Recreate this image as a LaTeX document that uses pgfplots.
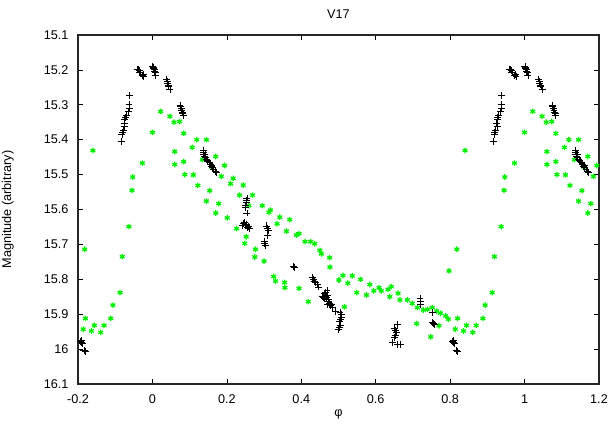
\documentclass[border=0pt]{standalone}
\usepackage{pgfplots}
\pgfplotsset{compat=1.18}
\usepackage{pgfplotstable}
\usepackage{fontspec}
\setmainfont{Liberation Sans}
\definecolor{ggreen}{RGB}{0,238,0}

% phase-folded light curve, phase in [0,1)
\pgfplotstableread{
x y
0.001 15.190
0.002 15.193
0.003 15.196
0.005 15.200
0.006 15.204
0.007 15.208
0.009 15.216
0.038 15.226
0.040 15.232
0.041 15.238
0.043 15.243
0.044 15.248
0.047 15.257
0.074 15.302
0.076 15.306
0.077 15.311
0.079 15.316
0.080 15.321
0.082 15.326
0.083 15.330
0.136 15.435
0.137 15.430
0.138 15.441
0.140 15.447
0.141 15.443
0.143 15.451
0.146 15.456
0.147 15.460
0.149 15.461
0.152 15.466
0.154 15.464
0.155 15.470
0.158 15.476
0.160 15.474
0.162 15.480
0.165 15.485
0.169 15.490
0.172 15.495
0.254 15.567
0.253 15.574
0.252 15.581
0.251 15.588
0.250 15.595
0.254 15.610
0.241 15.646
0.245 15.641
0.247 15.637
0.249 15.645
0.252 15.643
0.256 15.652
0.258 15.648
0.261 15.655
0.307 15.647
0.309 15.654
0.311 15.661
0.309 15.675
0.300 15.691
0.302 15.697
0.304 15.703
0.378 15.764
0.382 15.766
0.429 15.795
0.432 15.800
0.435 15.805
0.439 15.810
0.443 15.815
0.447 15.822
0.456 15.848
0.462 15.840
0.464 15.846
0.469 15.833
0.466 15.838
0.468 15.852
0.470 15.845
0.474 15.859
0.471 15.871
0.472 15.864
0.476 15.868
0.478 15.876
0.480 15.872
0.483 15.881
0.459 15.852
0.462 15.856
0.492 15.891
0.504 15.896
0.507 15.902
0.509 15.909
0.502 15.922
0.506 15.916
0.505 15.931
0.503 15.937
0.500 15.943
0.658 15.929
0.651 15.941
0.654 15.947
0.656 15.953
0.652 15.960
0.650 15.967
0.645 15.981
0.658 15.987
0.666 15.987
0.719 15.855
0.720 15.862
0.721 15.871
0.752 15.895
0.752 15.924
0.755 15.927
0.759 15.930
0.807 15.979
0.810 15.975
0.812 15.985
0.809 15.982
0.816 16.005
0.818 16.004
0.820 16.007
0.916 15.406
0.918 15.386
0.920 15.380
0.922 15.374
0.926 15.361
0.924 15.352
0.926 15.341
0.928 15.336
0.930 15.331
0.935 15.319
0.939 15.310
0.937 15.300
0.939 15.274
0.959 15.198
0.961 15.200
0.964 15.202
0.966 15.206
0.968 15.208
0.973 15.215
0.975 15.213
0.977 15.219
}\blackdata

\pgfplotstableread{
x y
0.000 15.379
0.022 15.319
0.047 15.333
0.058 15.350
0.073 15.348
0.084 15.382
0.060 15.434
0.060 15.471
0.084 15.463
0.087 15.500
0.110 15.501
0.107 15.422
0.119 15.400
0.145 15.400
0.134 15.457
0.122 15.531
0.159 15.478
0.170 15.448
0.194 15.474
0.185 15.505
0.154 15.546
0.145 15.576
0.178 15.583
0.210 15.526
0.217 15.511
0.244 15.530
0.234 15.559
0.259 15.589
0.269 15.559
0.170 15.610
0.201 15.624
0.226 15.655
0.252 15.678
0.248 15.697
0.277 15.714
0.275 15.736
0.295 15.589
0.313 15.608
0.317 15.602
0.342 15.622
0.369 15.629
0.335 15.641
0.360 15.662
0.387 15.673
0.394 15.669
0.410 15.692
0.425 15.692
0.436 15.698
0.450 15.717
0.454 15.727
0.476 15.738
0.477 15.765
0.300 15.748
0.326 15.792
0.331 15.805
0.355 15.809
0.356 15.824
0.394 15.826
0.419 15.864
0.501 15.802
0.512 15.789
0.525 15.811
0.537 15.790
0.559 15.800
0.584 15.815
0.549 15.838
0.575 15.845
0.595 15.833
0.609 15.824
0.615 15.833
0.633 15.829
0.642 15.821
0.638 15.850
0.660 15.840
0.665 15.859
0.685 15.859
0.698 15.869
0.712 15.881
0.728 15.888
0.739 15.886
0.752 15.881
0.764 15.891
0.774 15.897
0.788 15.905
0.795 15.914
0.770 15.933
0.710 15.927
0.748 15.965
0.516 15.879
0.797 15.776
0.818 15.714
0.814 15.943
0.820 15.912
0.836 15.948
0.844 15.932
0.861 15.952
0.870 15.932
0.888 15.912
0.894 15.874
0.913 15.838
0.919 15.735
0.937 15.649
0.945 15.545
0.947 15.507
0.973 15.467
0.840 15.431
}\greendata

\begin{document}
\fontsize{9.5}{11}\selectfont
\begin{tikzpicture}
\begin{axis}[
  scale only axis,
  width=390.75pt, height=261.75pt,
  xmin=-0.2, xmax=1.2,
  ymin=15.1, ymax=16.1,
  y dir=reverse,
  xtick={-0.2,0,0.2,0.4,0.6,0.8,1,1.2},
  xticklabels={-0.2,0,0.2,0.4,0.6,0.8,1,1.2},
  ytick={15.1,15.2,15.3,15.4,15.5,15.6,15.7,15.8,15.9,16,16.1},
  yticklabels={15.1,15.2,15.3,15.4,15.5,15.6,15.7,15.8,15.9,16,16.1},
  tick align=inside,
  major tick length=4pt,
  tick style={black, line width=0.5pt},
  axis line style={black!85, line width=1.1pt},
  minor tick num=0,
  title={V17},
  title style={yshift=3pt},
  xlabel={φ},
  ylabel={Magnitude (arbitrary)},
  xlabel style={yshift=2pt},
  ylabel style={yshift=16pt},
  ticklabel style={font=\fontsize{9.5}{11}\selectfont},
  xticklabel style={yshift=-4.5pt},
  yticklabel style={xshift=-3.75pt},
  /pgf/number format/assume math mode=true,
  clip=true,
]
\foreach \s in {0,-1,1} {
  \addplot[only marks, mark=asterisk, mark size=2.1pt, color=ggreen, line width=0.95pt]
    table[x expr=\thisrow{x}+\s, y=y] {\greendata};
  \addplot[only marks, mark=+, mark size=2.6pt, color=black, line width=0.6pt]
    table[x expr=\thisrow{x}+\s, y=y] {\blackdata};
}
\end{axis}
\pgfresetboundingbox
\path[use as bounding box] ([shift={(-58.5pt,-32.25pt)}]current axis.south west) rectangle ([shift={(10.5pt,26.25pt)}]current axis.north east);
\end{tikzpicture}
\end{document}
